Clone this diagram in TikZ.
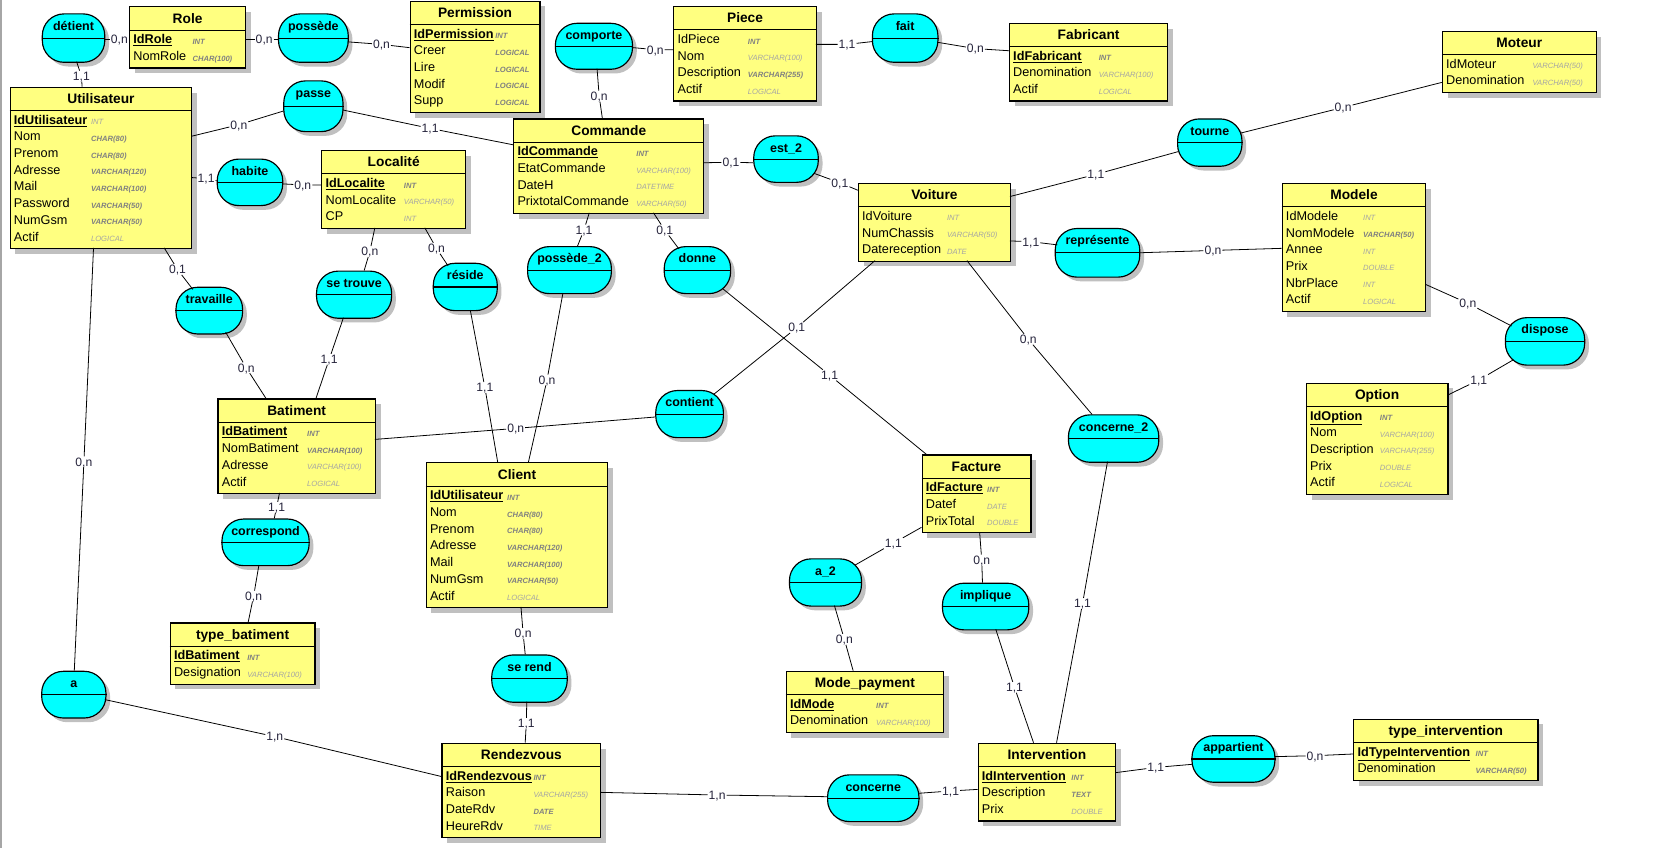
\documentclass[tikz,border=0pt]{standalone}
\usepackage{fontspec}
\setmainfont{Liberation Sans}
\usetikzlibrary{shadows}
\definecolor{entyellow}{HTML}{FFFF80}
\definecolor{relcyan}{HTML}{00FFFF}
\definecolor{shadowgray}{HTML}{C0C0C0}
\definecolor{typedark}{HTML}{808080}
\definecolor{typelight}{HTML}{A4A4A4}
\definecolor{cardc}{HTML}{26243C}
\newcommand\pkey[1]{\textbf{\underline{#1}}}
\newcommand\tyb[1]{{\bfseries\color{typedark}#1}}
\newcommand\tyn[1]{{\color{typelight}#1}}
\tikzset{
  entbox/.style={draw, line width=1.1pt, fill=entyellow, inner sep=0pt,
    drop shadow={shadow xshift=5pt, shadow yshift=-5pt, fill=shadowgray, opacity=1}},
  relbox/.style={draw, line width=1.1pt, fill=relcyan, inner sep=0pt, rounded corners=20.5pt,
    drop shadow={shadow xshift=4pt, shadow yshift=-4pt, fill=shadowgray, opacity=1}},
  hline/.style={line width=1.1pt},
  conn/.style={line width=0.75pt},
  efield/.style={anchor=base west, inner sep=0pt, font=\fontsize{12}{14}\selectfont},
  etype/.style={anchor=base west, inner sep=0pt, font=\fontsize{7.2}{8}\selectfont\itshape},
  etitle/.style={anchor=base, inner sep=0pt, font=\fontsize{13}{15}\selectfont\bfseries},
  rtext/.style={anchor=base, inner sep=0pt, font=\fontsize{11.8}{13}\selectfont\bfseries},
  card/.style={inner sep=0.8pt, text height=8.3pt, text depth=0pt, font=\fontsize{11.5}{13}\selectfont, text=cardc}
}
% #1 name #2 x #3 y #4 width #5 type column #6 rows #7 title #8 fields
\newcommand\entnode[8]{%
  \pgfmathsetmacro\eH{26.2+15.8*#6}%
  \node[entbox, minimum width=#4pt, minimum height=\eH pt, anchor=north west] (#1) at (#2,#3) {};
  \draw[hline] ([yshift=-22.5pt]#1.north west) -- ([yshift=-22.5pt]#1.north east);
  \node[etitle] (#1-t) at ([yshift=-16pt]#1.north) {#7};
  \foreach \f/\ty [count=\i] in {#8} {
    \node[efield] (#1-f\i) at ([shift={(4,19.7+15.8*\i)}]#1.north west) {\f};
    \node[etype] (#1-y\i) at ([shift={(#5,20.2+15.8*\i)}]#1.north west) {\ty};
  }%
}
% #1 name #2 x #3 y #4 width #5 height #6 text
\newcommand\relnode[6]{%
  \node[relbox, minimum width=#4pt, minimum height=#5pt, anchor=north west] (#1) at (#2,#3) {};
  \draw[hline] (#1.west) -- (#1.east);
  \node[rtext] (#1-t) at ([yshift=-16pt]#1.north) {#6};
}
\begin{document}
\begin{tikzpicture}[x=1pt, y=-1pt]
\useasboundingbox (0,0) rectangle (1568,802);
\fill[white] (0,0) rectangle (1568,802);
\draw[gray!70, line width=1.5pt] (0.75,0) -- (0.75,802);

% ---------------- entities ----------------
\entnode{role}{122}{6}{110}{60}{2}{Role}{\pkey{IdRole}/\tyb{INT}, NomRole/\tyb{CHAR(100)}}
\entnode{permission}{387.5}{0.6}{123}{81}{5}{Permission}{\pkey{IdPermission}/\tyb{INT}, Creer/\tyb{LOGICAL}, Lire/\tyb{LOGICAL}, Modif/\tyb{LOGICAL}, Supp/\tyb{LOGICAL}}
\entnode{util}{9}{82}{172}{77}{8}{Utilisateur}{\pkey{IdUtilisateur}/\tyn{INT}, Nom/\tyb{CHAR(80)}, Prenom/\tyb{CHAR(80)}, Adresse/\tyb{VARCHAR(120)}, Mail/\tyb{VARCHAR(100)}, Password/\tyb{VARCHAR(50)}, NumGsm/\tyb{VARCHAR(50)}, Actif/\tyn{LOGICAL}}
\entnode{localite}{304}{142}{136}{78}{3}{Localité}{\pkey{IdLocalite}/\tyb{INT}, NomLocalite/\tyn{VARCHAR(50)}, CP/\tyn{INT}}
\entnode{piece}{637}{5.7}{135}{70.6}{4}{Piece}{IdPiece/\tyb{INT}, Nom/\tyn{VARCHAR(100)}, Description/\tyb{VARCHAR(255)}, Actif/\tyn{LOGICAL}}
\entnode{commande}{485.5}{112}{180}{116.5}{4}{Commande}{\pkey{IdCommande}/\tyb{INT}, EtatCommande/\tyn{VARCHAR(100)}, DateH/\tyn{DATETIME}, PrixtotalCommande/\tyn{VARCHAR(50)}}
\entnode{fabricant}{954.6}{21.5}{150}{85}{3}{Fabricant}{\pkey{IdFabricant}/\tyb{INT}, Denomination/\tyn{VARCHAR(100)}, Actif/\tyn{LOGICAL}}
\entnode{voiture}{811.7}{173}{144}{84.3}{3}{Voiture}{IdVoiture/\tyn{INT}, NumChassis/\tyn{VARCHAR(50)}, Datereception/\tyn{DATE}}
\entnode{moteur}{1364.3}{29}{145.6}{85.7}{2}{Moteur}{IdMoteur/\tyn{VARCHAR(50)}, Denomination/\tyn{VARCHAR(50)}}
\entnode{modele}{1212.7}{173}{136}{77}{6}{Modele}{IdModele/\tyn{INT}, NomModele/\tyb{VARCHAR(50)}, Annee/\tyn{INT}, Prix/\tyn{DOUBLE}, NbrPlace/\tyn{INT}, Actif/\tyn{LOGICAL}}
\entnode{batiment}{205.7}{377}{149}{84.8}{4}{Batiment}{\pkey{IdBatiment}/\tyb{INT}, NomBatiment/\tyb{VARCHAR(100)}, Adresse/\tyn{VARCHAR(100)}, Actif/\tyn{LOGICAL}}
\entnode{client}{402.7}{437.5}{172}{77}{7}{Client}{\pkey{IdUtilisateur}/\tyb{INT}, Nom/\tyb{CHAR(80)}, Prenom/\tyb{CHAR(80)}, Adresse/\tyb{VARCHAR(120)}, Mail/\tyb{VARCHAR(100)}, NumGsm/\tyb{VARCHAR(50)}, Actif/\tyn{LOGICAL}}
\entnode{typebat}{160.5}{589}{137}{73.3}{2}{type\_batiment}{\pkey{IdBatiment}/\tyb{INT}, Designation/\tyn{VARCHAR(100)}}
\entnode{facture}{872}{430}{103}{62}{3}{Facture}{\pkey{IdFacture}/\tyb{INT}, Datef/\tyn{DATE}, PrixTotal/\tyn{DOUBLE}}
\entnode{modepay}{743.4}{634.6}{149}{85.5}{2}{Mode\_payment}{\pkey{IdMode}/\tyb{INT}, Denomination/\tyn{VARCHAR(100)}}
\entnode{rdv}{417.7}{702.8}{150.3}{87}{4}{Rendezvous}{\pkey{IdRendezvous}/\tyb{INT}, Raison/\tyn{VARCHAR(255)}, DateRdv/\tyb{DATE}, HeureRdv/\tyn{TIME}}
\entnode{intervention}{925}{702.8}{130.3}{88.7}{3}{Intervention}{\pkey{IdIntervention}/\tyb{INT}, Description/\tyb{TEXT}, Prix/\tyn{DOUBLE}}
\entnode{typeint}{1280.4}{680}{174.4}{115.8}{2}{type\_intervention}{\pkey{IdTypeIntervention}/\tyb{INT}, Denomination/\tyb{VARCHAR(50)}}
\entnode{option}{1235.6}{362}{134}{70}{5}{Option}{\pkey{IdOption}/\tyb{INT}, Nom/\tyn{VARCHAR(100)}, Description/\tyn{VARCHAR(255)}, Prix/\tyn{DOUBLE}, Actif/\tyn{LOGICAL}}

% ---------------- relationships ----------------
\relnode{detient}{39.5}{12.6}{59.1}{45.8}{détient}
\relnode{possede}{263}{12.6}{66}{45.8}{possède}
\relnode{passe}{268}{76}{56}{48}{passe}
\relnode{comporte}{525}{21.5}{73}{43.5}{comporte}
\relnode{fait}{825}{12.6}{62}{45.8}{fait}
\relnode{habite}{205}{150}{62}{44}{habite}
\relnode{est}{712.7}{128}{61.1}{44}{est\_2}
\relnode{tourne}{1113.8}{112}{60.9}{44.8}{tourne}
\relnode{represente}{998}{215.7}{80}{46}{représente}
\relnode{dispose}{1424}{300}{75}{45}{dispose}
\relnode{travaille}{166}{271.3}{63}{44.2}{travaille}
\relnode{setrouve}{299}{256}{71}{44.6}{se trouve}
\relnode{reside}{409.5}{248.6}{60.5}{44.8}{réside}
\relnode{possedeb}{498.7}{232.8}{79.3}{44.5}{possède\_2}
\relnode{donne}{628}{232.8}{62.8}{44.5}{donne}
\relnode{contient}{620}{369}{64}{44.6}{contient}
\relnode{concerneb}{1010.5}{392}{85.5}{44.9}{concerne\_2}
\relnode{correspond}{209.5}{490.6}{82.5}{44.1}{correspond}
\relnode{atwo}{746.5}{528.3}{68.2}{44.7}{a\_2}
\relnode{implique}{891.3}{551.3}{81.7}{44.2}{implique}
\relnode{serend}{464.8}{619.2}{71.4}{44.8}{se rend}
\relnode{a}{38.9}{634.7}{60.8}{44.2}{a}
\relnode{concerne}{782.6}{732.7}{86.4}{44.2}{concerne}
\relnode{appartient}{1127.4}{695.6}{78.5}{44.1}{appartient}

% ---------------- cardinality labels ----------------
\node[card] (l1) at (77,72) {1,1};
\node[card] (l2) at (113,37) {0,n};
\node[card] (l3) at (250,37) {0,n};
\node[card] (l4) at (361,42) {0,n};
\node[card] (l5) at (226,118) {0,n};
\node[card] (l6) at (407,121.5) {1,1};
\node[card] (l7) at (195,169) {1,1};
\node[card] (l8) at (286.5,175) {0,n};
\node[card] (l9) at (350,238) {0,n};
\node[card] (l10) at (413,235) {0,n};
\node[card] (l11) at (168,255) {0,1};
\node[card] (l12) at (233,348) {0,n};
\node[card] (l13) at (311.5,340) {1,1};
\node[card] (l14) at (458.8,366.6) {1,1};
\node[card] (l15) at (552.6,217.7) {1,1};
\node[card] (l16) at (517.6,359.6) {0,n};
\node[card] (l17) at (629,217.7) {0,1};
\node[card] (l18) at (785,355) {1,1};
\node[card] (l19) at (567,91) {0,n};
\node[card] (l20) at (620,47) {0,n};
\node[card] (l21) at (801.5,42) {1,1};
\node[card] (l22) at (923,46) {0,n};
\node[card] (l23) at (691.7,153.6) {0,1};
\node[card] (l24) at (794.8,173) {0,1};
\node[card] (l25) at (1037,165) {1,1};
\node[card] (l26) at (1271,101.6) {0,n};
\node[card] (l27) at (975.5,228.7) {1,1};
\node[card] (l28) at (1147.8,237) {0,n};
\node[card] (l29) at (1389,287) {0,n};
\node[card] (l30) at (1399.3,359.6) {1,1};
\node[card] (l31) at (754,310) {0,1};
\node[card] (l32) at (488,405.4) {0,n};
\node[card] (l33) at (973,321) {0,n};
\node[card] (l34) at (1024.4,571) {1,1};
\node[card] (l35) at (845.4,514) {1,1};
\node[card] (l36) at (799,605) {0,n};
\node[card] (l37) at (929,530) {0,n};
\node[card] (l38) at (960,650.4) {1,1};
\node[card] (l39) at (495,599.4) {0,n};
\node[card] (l40) at (498,684.5) {1,1};
\node[card] (l41) at (79.4,437) {0,n};
\node[card] (l42) at (260,697) {1,n};
\node[card] (l43) at (678.6,752.3) {1,n};
\node[card] (l44) at (899.5,748.5) {1,1};
\node[card] (l45) at (1093.7,726.2) {1,1};
\node[card] (l46) at (1244.4,715.1) {0,n};
\node[card] (l47) at (261.8,480) {1,1};
\node[card] (l48) at (240,564) {0,n};

% ---------------- connectors ----------------
\draw[conn] ([shift={(33,45.8)}]detient.north west) -- (l1) -- ([shift={(68.7,0)}]util.north west);
\draw[conn] ([shift={(59.1,24.4)}]detient.north west) -- (l2) -- ([shift={(0,31)}]role.north west);
\draw[conn] ([shift={(110,31)}]role.north west) -- (l3) -- ([shift={(0,24.4)}]possede.north west);
\draw[conn] ([shift={(66,27)}]possede.north west) -- (l4) -- ([shift={(0,44.5)}]permission.north west);
\draw[conn] ([shift={(172,47)}]util.north west) -- (l5) -- ([shift={(0.4,29)}]passe.north west);
\draw[conn] ([shift={(56,28)}]passe.north west) -- (l6) -- ([shift={(0,25)}]commande.north west);
\draw[conn] ([shift={(172,86)}]util.north west) -- (l7) -- ([shift={(0,21)}]habite.north west);
\draw[conn] ([shift={(62,24)}]habite.north west) -- (l8) -- ([shift={(0,33)}]localite.north west);
\draw[conn] ([shift={(50.7,73.6)}]localite.north west) -- (l9) -- ([shift={(45.6,0)}]setrouve.north west);
\draw[conn] ([shift={(98,73.6)}]localite.north west) -- (l10) -- ([shift={(14.5,3)}]reside.north west);
\draw[conn] ([shift={(146.4,152.6)}]util.north west) -- (l11) -- ([shift={(16.4,2.5)}]travaille.north west);
\draw[conn] ([shift={(47.5,43)}]travaille.north west) -- (l12) -- ([shift={(46,0)}]batiment.north west);
\draw[conn] ([shift={(26,44.6)}]setrouve.north west) -- (l13) -- ([shift={(93.3,0)}]batiment.north west);
\draw[conn] ([shift={(35.5,44.8)}]reside.north west) -- (l14) -- ([shift={(68.3,0)}]client.north west);
\draw[conn] ([shift={(72.1,89.4)}]commande.north west) -- (l15) -- ([shift={(47.8,0)}]possedeb.north west);
\draw[conn] ([shift={(34,44.5)}]possedeb.north west) -- (l16) -- ([shift={(97.3,0)}]client.north west);
\draw[conn] ([shift={(132.9,89.4)}]commande.north west) -- (l17) -- ([shift={(14.5,2.8)}]donne.north west);
\draw[conn] ([shift={(56,40.5)}]donne.north west) -- (l18) -- ([shift={(4.7,0)}]facture.north west);
\draw[conn] ([shift={(40,43.5)}]comporte.north west) -- (l19) -- ([shift={(84.5,0)}]commande.north west);
\draw[conn] ([shift={(73,23.5)}]comporte.north west) -- (l20) -- ([shift={(0,41.3)}]piece.north west);
\draw[conn] ([shift={(135,36.3)}]piece.north west) -- (l21) -- ([shift={(0,26.8)}]fait.north west);
\draw[conn] ([shift={(62,27.4)}]fait.north west) -- (l22) -- ([shift={(0,26.5)}]fabricant.north west);
\draw[conn] ([shift={(180,42)}]commande.north west) -- (l23) -- ([shift={(0,26)}]est.north west);
\draw[conn] ([shift={(57.5,36)}]est.north west) -- (l24) -- ([shift={(0,7)}]voiture.north west);
\draw[conn] ([shift={(144,13)}]voiture.north west) -- (l25) -- ([shift={(1,31.5)}]tourne.north west);
\draw[conn] ([shift={(60,14)}]tourne.north west) -- (l26) -- ([shift={(0,49)}]moteur.north west);
\draw[conn] ([shift={(144,55)}]voiture.north west) -- (l27) -- ([shift={(2.5,16)}]represente.north west);
\draw[conn] ([shift={(80,23.5)}]represente.north west) -- (l28) -- ([shift={(0,62)}]modele.north west);
\draw[conn] ([shift={(136,96)}]modele.north west) -- (l29) -- ([shift={(6.4,8.5)}]dispose.north west);
\draw[conn] ([shift={(134,12)}]option.north west) -- (l30) -- ([shift={(8,40.5)}]dispose.north west);
\draw[conn] ([shift={(16.3,73.6)}]voiture.north west) -- (l31) -- ([shift={(55.6,4)}]contient.north west);
\draw[conn] ([shift={(149,38.8)}]batiment.north west) -- (l32) -- ([shift={(0,25.6)}]contient.north west);
\draw[conn] ([shift={(103.3,73.6)}]voiture.north west) -- (l33) -- ([shift={(23,0.3)}]concerneb.north west);
\draw[conn] ([shift={(37.5,44.9)}]concerneb.north west) -- (l34) -- ([shift={(74.8,0)}]intervention.north west);
\draw[conn] ([shift={(0,69)}]facture.north west) -- (l35) -- ([shift={(62.5,6.5)}]atwo.north west);
\draw[conn] ([shift={(43.1,44.7)}]atwo.north west) -- (l36) -- ([shift={(63.9,0)}]modepay.north west);
\draw[conn] ([shift={(55,73.6)}]facture.north west) -- (l37) -- ([shift={(38.4,0)}]implique.north west);
\draw[conn] ([shift={(51,44.2)}]implique.north west) -- (l38) -- ([shift={(53,0)}]intervention.north west);
\draw[conn] ([shift={(90.3,136.8)}]client.north west) -- (l39) -- ([shift={(32.2,0)}]serend.north west);
\draw[conn] ([shift={(33.7,44.8)}]serend.north west) -- (l40) -- ([shift={(79.3,0)}]rdv.north west);
\draw[conn] ([shift={(79.5,152.6)}]util.north west) -- (l41) -- ([shift={(31.4,0)}]a.north west);
\draw[conn] ([shift={(60.3,27.3)}]a.north west) -- (l42) -- ([shift={(0,32)}]rdv.north west);
\draw[conn] ([shift={(150.3,47)}]rdv.north west) -- (l43) -- ([shift={(0,21.2)}]concerne.north west);
\draw[conn] ([shift={(86.4,18)}]concerne.north west) -- (l44) -- ([shift={(0,44.2)}]intervention.north west);
\draw[conn] ([shift={(130.3,28.4)}]intervention.north west) -- (l45) -- ([shift={(0.3,27.7)}]appartient.north west);
\draw[conn] ([shift={(78.5,20.4)}]appartient.north west) -- (l46) -- ([shift={(0,33.5)}]typeint.north west);
\draw[conn] ([shift={(58.8,89.4)}]batiment.north west) -- (l47) -- ([shift={(50,0)}]correspond.north west);
\draw[conn] ([shift={(35.5,44.1)}]correspond.north west) -- (l48) -- ([shift={(74.3,0)}]typebat.north west);
\end{tikzpicture}
\end{document}
